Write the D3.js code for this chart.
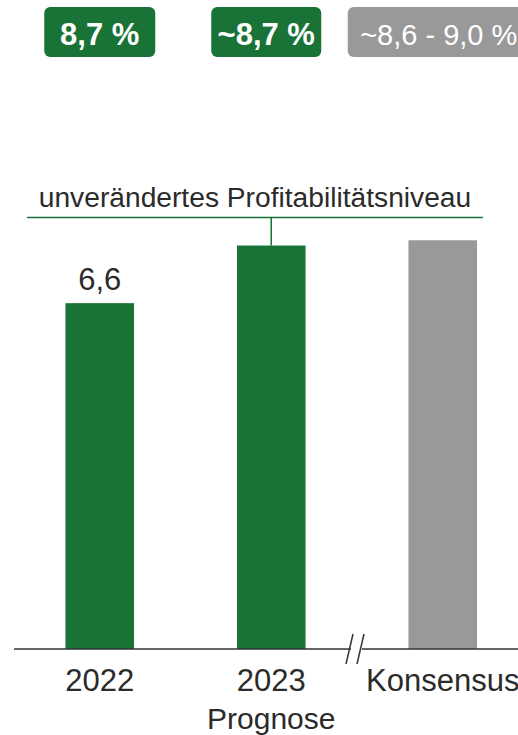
<!DOCTYPE html>
<html lang="de">
<head>
    <meta charset="UTF-8">
    <title>Profitabilität</title>
    <style>
        body { margin: 0; background: #fff; }
        svg { display: block; font-family: "Liberation Sans", Arial, sans-serif; }
        .label { fill: #2b2b2b; text-anchor: middle; }
    </style>
</head>
<body>
    <svg id="chart" width="518" height="735"></svg>

    <script src="https://d3js.org/d3.v7.min.js"></script>
    <script>
        // Data
        const categories = ["2022", "2023", "Konsensus"];
        const subLabels = ["", "Prognose", ""];
        const values = [6.6, 7.7, 7.8];
        const valueLabels = ["6,6", "", ""];
        const badgeLabels = ["8,7 %", "~8,7 %", "~8,6 - 9,0 %"];
        const annotationText = "unverändertes Profitabilitätsniveau";

        const green = "#197236";
        const grey = "#999999";
        const barColors = [green, green, grey];
        const badgeBold = [true, true, false];

        const svg = d3.select("#chart");
        const baseY = 649;

        // Scales
        const x = d3.scaleBand()
            .domain(categories)
            .range([14, 528.5])
            .paddingInner(0.6)
            .paddingOuter(0.3);

        const y = d3.scaleLinear()
            .domain([0, 10])
            .range([baseY, 125]);

        // Bars
        svg.selectAll(".bar")
            .data(categories)
            .enter().append("rect")
            .attr("class", "bar")
            .attr("x", d => x(d))
            .attr("width", x.bandwidth())
            .attr("y", (d, i) => y(values[i]))
            .attr("height", (d, i) => y(0) - y(values[i]))
            .attr("fill", (d, i) => barColors[i]);

        // Baseline with a break before the consensus bar
        const breakX = 356;
        svg.append("line")
            .attr("x1", 14).attr("x2", breakX - 5)
            .attr("y1", baseY).attr("y2", baseY)
            .attr("stroke", "#333").attr("stroke-width", 1.5);
        svg.append("line")
            .attr("x1", breakX + 6).attr("x2", 518)
            .attr("y1", baseY).attr("y2", baseY)
            .attr("stroke", "#333").attr("stroke-width", 1.5);
        [-5, 6].forEach(dx => {
            svg.append("line")
                .attr("x1", breakX + dx - 5).attr("y1", baseY + 15)
                .attr("x2", breakX + dx + 2).attr("y2", baseY - 15)
                .attr("stroke", "#333").attr("stroke-width", 1.5);
        });

        // Category labels
        svg.selectAll(".cat")
            .data(categories)
            .enter().append("text")
            .attr("class", "label cat")
            .attr("x", d => x(d) + x.bandwidth() / 2)
            .attr("y", 691)
            .style("font-size", "31px")
            .text(d => d);

        svg.selectAll(".sub")
            .data(categories)
            .enter().append("text")
            .attr("class", "label sub")
            .attr("x", d => x(d) + x.bandwidth() / 2)
            .attr("y", 729)
            .style("font-size", "30px")
            .text((d, i) => subLabels[i]);

        // Value labels
        svg.selectAll(".val")
            .data(categories)
            .enter().append("text")
            .attr("class", "label val")
            .attr("x", d => x(d) + x.bandwidth() / 2)
            .attr("y", (d, i) => y(values[i]) - 13)
            .style("font-size", "31px")
            .text((d, i) => valueLabels[i]);

        // Annotation bracket over 2023
        const annY = 217.5;
        const c2023 = x("2023") + x.bandwidth() / 2;
        svg.append("line")
            .attr("x1", 27).attr("x2", 483)
            .attr("y1", annY).attr("y2", annY)
            .attr("stroke", green).attr("stroke-width", 1.5);
        svg.append("line")
            .attr("x1", c2023).attr("x2", c2023)
            .attr("y1", annY).attr("y2", y(values[1]))
            .attr("stroke", green).attr("stroke-width", 1.5);
        svg.append("text")
            .attr("class", "label")
            .attr("x", 255)
            .attr("y", 207)
            .style("font-size", "28.2px")
            .text(annotationText);

        // Badges on top
        const badgeW = [111, 110, 190];
        const badgeShift = [0, -5, 0];
        const badges = svg.selectAll(".badge")
            .data(categories)
            .enter().append("g")
            .attr("class", "badge")
            .attr("transform", (d, i) => `translate(${x(d) + x.bandwidth() / 2 + badgeShift[i]},0)`);

        badges.append("rect")
            .attr("x", (d, i) => -badgeW[i] / 2)
            .attr("y", 7)
            .attr("width", (d, i) => badgeW[i])
            .attr("height", 50)
            .attr("rx", 6)
            .attr("fill", (d, i) => barColors[i]);

        badges.append("text")
            .attr("text-anchor", "middle")
            .attr("x", (d, i) => badgeBold[i] ? 0 : -4)
            .attr("y", 45)
            .attr("fill", "#fff")
            .style("font-size", (d, i) => badgeBold[i] ? "31px" : "29px")
            .style("font-weight", (d, i) => badgeBold[i] ? "bold" : "normal")
            .text((d, i) => badgeLabels[i]);
    </script>
</body>
</html>
